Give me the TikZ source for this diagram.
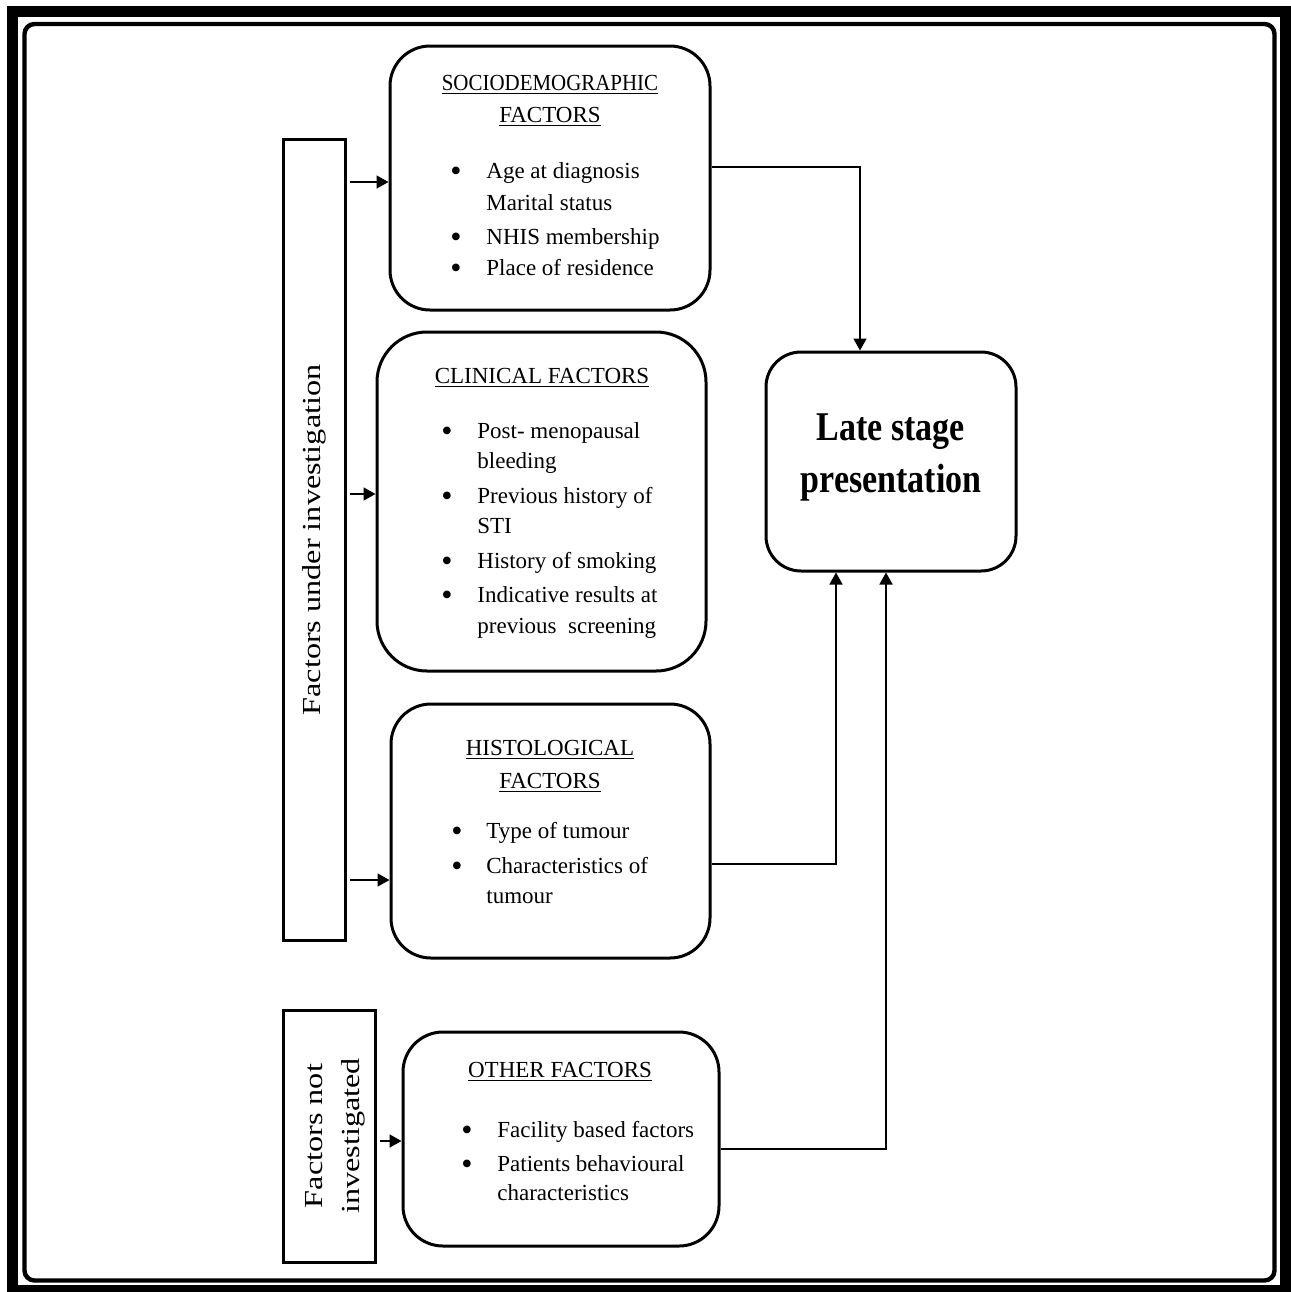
\documentclass[tikz,border=0pt]{standalone}
\usepackage{fontspec}
\setmainfont{Liberation Serif}
\usepackage{graphicx}
\usetikzlibrary{arrows.meta}

\tikzset{
  factorbox/.style={draw, line width=1.5pt, rounded corners=20pt, inner sep=0pt},
  sidebox/.style={draw, line width=1.5pt, inner sep=0pt},
  link/.style={line width=0.8pt},
  tip/.style={-{Triangle[length=6pt,width=6.5pt]}},
  headtxt/.style={font=\fontsize{11.5}{14}\selectfont, anchor=base, inner sep=0pt},
  itemtxt/.style={font=\fontsize{11.5}{14}\selectfont, anchor=base west, inner sep=0pt},
  bullettxt/.style={font=\fontsize{16}{18}\selectfont, anchor=base, inner sep=0pt, yshift=-1.5pt},
}

\begin{document}
\begin{tikzpicture}[x=0.5pt,y=-0.5pt]
\useasboundingbox (0,0) rectangle (1291,1292);
\draw [line width=5.5pt] (12.5,11.5) rectangle (1285.5,1290.5);
\draw [line width=2.2pt, rounded corners=5pt] (24.5,24) rectangle (1274.5,1280.5);

\node [sidebox, minimum width=31pt, minimum height=400.5pt] (inv) at (314,539.5) {};
\node [sidebox, minimum width=46pt, minimum height=126pt] (notinv) at (329,1136) {};
\node [rotate=90, font=\fontsize{13}{18.5}\selectfont] (invtxt) at (314,540)
  {\scalebox{1.24}[1]{Factors under investigation}};
\node [rotate=90, font=\fontsize{13}{18.5}\selectfont] (notinvtxt) at (334,1136)
  {\scalebox{1.24}[1]{\begin{tabular}{@{}c@{}}Factors not\\investigated\end{tabular}}};

\node [factorbox, minimum width=160pt, minimum height=132pt] (socio) at (550,178) {};
\node [factorbox, rounded corners=25pt, minimum width=164.5pt, minimum height=169.5pt] (clin) at (541.5,501.5) {};
\node [factorbox, minimum width=159.5pt, minimum height=127pt] (histo) at (550.5,831) {};
\node [factorbox, minimum width=158pt, minimum height=107pt] (other) at (561,1139) {};
\node [factorbox, rounded corners=17.5pt, minimum width=125pt, minimum height=109.5pt] (late) at (891,461.5) {};

\node [font=\bfseries\fontsize{17}{21.7}\selectfont] (latetxt) at (891,456)
  {\scalebox{1}[1.2]{\begin{tabular}{@{}c@{}}Late stage\\presentation\end{tabular}}};

\node [headtxt] (sochd) at (550,90) {\underline{\scalebox{0.91}[1]{SOCIODEMOGRAPHIC}}};
\node [headtxt] (sochdb) at (550,122) {\underline{FACTORS}};
\node [bullettxt] (sob1) at (456,178) {\textbullet};
\node [itemtxt] (soc1) at (486,178) {Age at diagnosis};
\node [itemtxt] (soc2) at (486,210) {Marital status};
\node [bullettxt] (sob3) at (456,244) {\textbullet};
\node [itemtxt] (soc3) at (486,244) {NHIS membership};
\node [bullettxt] (sob4) at (456,275) {\textbullet};
\node [itemtxt] (soc4) at (486,275) {Place of residence};

\node [headtxt] (clinhd) at (542,383) {\underline{CLINICAL FACTORS}};
\node [bullettxt] (clb1) at (447,438) {\textbullet};
\node [itemtxt] (cli1) at (477,438) {Post- menopausal};
\node [itemtxt] (cli1b) at (477,468) {bleeding};
\node [bullettxt] (clb2) at (447,503) {\textbullet};
\node [itemtxt] (cli2) at (477,503) {Previous history of};
\node [itemtxt] (cli2b) at (477,533) {STI};
\node [bullettxt] (clb3) at (447,568) {\textbullet};
\node [itemtxt] (cli3) at (477,568) {History of smoking};
\node [bullettxt] (clb4) at (447,602) {\textbullet};
\node [itemtxt] (cli4) at (477,602) {Indicative results at};
\node [itemtxt] (cli4b) at (477,633) {previous~~screening};

\node [headtxt] (histhd) at (550,755) {\underline{HISTOLOGICAL}};
\node [headtxt] (histhdb) at (550,788) {\underline{FACTORS}};
\node [bullettxt] (hib1) at (457,838) {\textbullet};
\node [itemtxt] (his1) at (486,838) {Type of tumour};
\node [bullettxt] (hib2) at (457,873) {\textbullet};
\node [itemtxt] (his2) at (486,873) {Characteristics of};
\node [itemtxt] (his2b) at (486,903) {tumour};

\node [headtxt] (othhd) at (560,1077) {\underline{OTHER FACTORS}};
\node [bullettxt] (otb1) at (467,1137) {\textbullet};
\node [itemtxt] (oth1) at (497,1137) {Facility based factors};
\node [bullettxt] (otb2) at (467,1171) {\textbullet};
\node [itemtxt] (oth2) at (497,1171) {Patients behavioural};
\node [itemtxt] (oth2b) at (497,1200) {characteristics};

\coordinate (lv1) at (0,182);
\coordinate (lv2) at (0,494);
\coordinate (lv3) at (0,880);
\coordinate (lv4) at (0,1141);
\draw [link, tip, shorten <=1.5pt] (inv.east |- lv1) -- (socio.west |- lv1);
\draw [link, tip, shorten <=1.5pt] (inv.east |- lv2) -- (clin.west |- lv2);
\draw [link, tip, shorten <=1.5pt] (inv.east |- lv3) -- (histo.west |- lv3);
\draw [link, tip, shorten <=1.5pt] (notinv.east |- lv4) -- (other.west |- lv4);

\coordinate (j1) at (860,167);
\coordinate (j2) at (836,864);
\coordinate (j3) at (886,1149);
\draw [link, tip] (socio.east |- j1) -- (j1) -- (late.north -| j1);
\draw [link, tip] (histo.east |- j2) -- (j2) -- (late.south -| j2);
\draw [link, tip] (other.east |- j3) -- (j3) -- (late.south -| j3);
\end{tikzpicture}
\end{document}
